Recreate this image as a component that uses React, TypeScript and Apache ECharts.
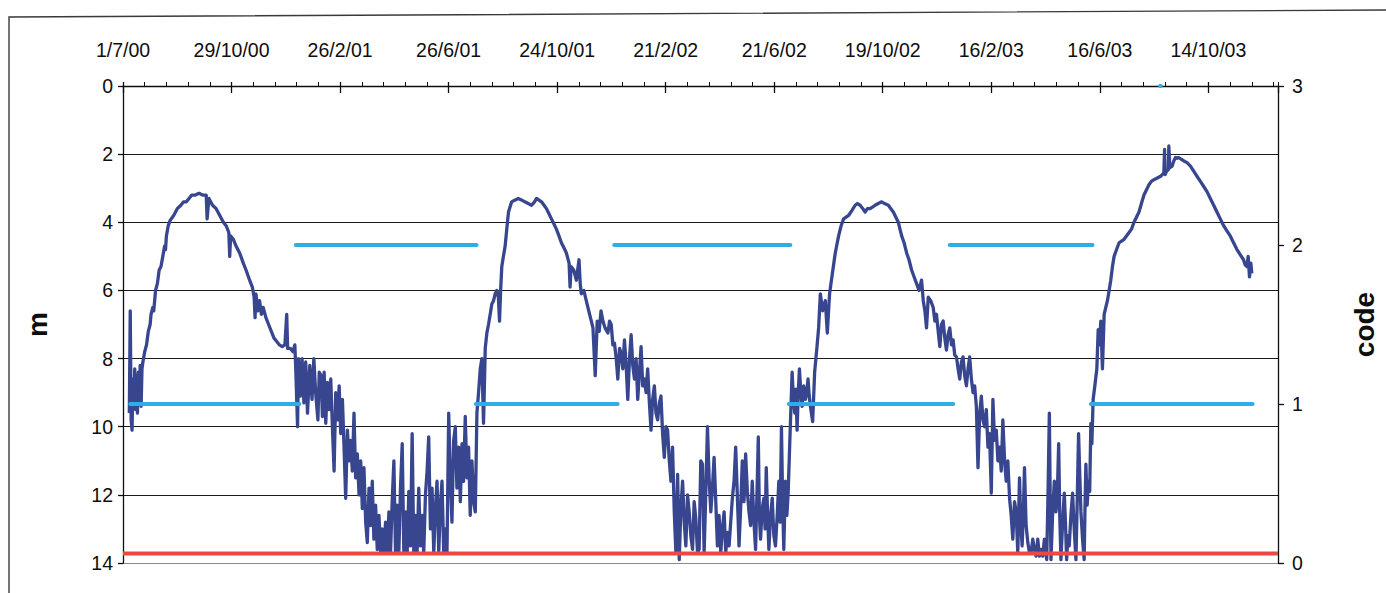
import { useEffect, useRef } from "react";
import * as echarts from "echarts";

// Day 0 of the horizontal axis is 1 July 2000; positions are days after it.
const ORIGIN_UTC = Date.UTC(2000, 6, 1);
const DAY_MS = 86400000;
const AXIS_MAX_DAY = 1277;
const MAJOR_TICK_DAYS = 120;
const MINOR_TICK_DAYS = 24;

// Depth to water (m), as [day, metres].
const waterDepth: [number, number][] = [
  [7, 9.6], [8, 6.6], [9, 9.8], [10, 10.1], [11, 8.6], [12, 9.4], [13, 8.3], [14, 9.5], [15, 8.5], [16, 9.6],
  [17, 8.4], [18, 9.2], [19, 8.2], [20, 9.4], [21, 8.3], [22, 8.1], [24, 7.8], [26, 7.6], [28, 7.2], [30, 7.0],
  [31, 6.7], [33, 6.5], [34, 6.6], [36, 6.0], [38, 5.8], [40, 5.4], [42, 5.3], [44, 5.0], [46, 4.7], [47, 4.8],
  [48, 4.4], [50, 4.1], [52, 3.95], [56, 3.8], [60, 3.6], [64, 3.5], [67, 3.4], [70, 3.4], [73, 3.3], [76, 3.2],
  [80, 3.2], [84, 3.15], [88, 3.2], [92, 3.2], [93, 3.9], [95, 3.3], [99, 3.5], [103, 3.6], [107, 3.8], [111, 4.0],
  [114, 4.1], [117, 4.3], [118, 5.0], [119, 4.4], [122, 4.5], [125, 4.7], [129, 4.9], [133, 5.2], [136, 5.4], [140, 5.7],
  [143, 5.9], [145, 6.2], [146, 6.8], [147, 6.1], [149, 6.6], [151, 6.3], [153, 6.7], [155, 6.5], [158, 6.8], [161, 7.0],
  [164, 7.2], [167, 7.4], [170, 7.5], [173, 7.6], [176, 7.65], [179, 7.6], [181, 6.7], [182, 7.7], [185, 7.7], [188, 7.8],
  [190, 7.6], [191, 8.3], [193, 10.0], [194, 8.0], [196, 9.1], [198, 8.0], [200, 9.3], [202, 8.1], [204, 9.6], [206.5, 8.2],
  [209, 9.2], [211, 8.0], [213, 9.0], [215.5, 9.8], [217, 8.4],
  [219, 8.5], [220.5, 9.7], [222.4, 8.4], [224.2, 9.9], [226, 8.7], [227.9, 9.5], [229.7, 8.6], [231.5, 10.0], [233.4, 11.3], [235.2, 9.0],
  [237.1, 9.8], [239, 8.8], [240.7, 10.2], [242.6, 9.2], [244.4, 10.6], [246.2, 12.1], [248.1, 10.1], [250, 11.0], [251.7, 10.4], [253.5, 11.3],
  [255.4, 9.6], [257.2, 11.5], [259.1, 10.8], [261, 12.0], [262.8, 11.0], [264.6, 12.4], [266.4, 11.2], [268.3, 12.8], [270.1, 13.4], [272, 11.8],
  [273.8, 12.9], [275.6, 11.6], [277.4, 13.3], [279.3, 12.3], [281.1, 13.6], [283, 12.6], [284.8, 13.7], [286.6, 13.0], [288.5, 13.7], [290.3, 12.8],
  [292.1, 13.7], [294, 12.5], [295.8, 13.7], [297.6, 12.2], [299.5, 11.0], [301.3, 13.7], [303.1, 12.3], [305, 13.7], [306.8, 11.8], [308.7, 10.5],
  [310.5, 13.7], [312.3, 12.5], [314.2, 13.7], [316, 11.9], [317.8, 13.5], [319.7, 10.2], [321.5, 13.7], [323.4, 12.6], [325.2, 13.7], [327, 11.8],
  [328.9, 13.5], [330.7, 12.6], [332.5, 13.7], [334.4, 12.0], [336.2, 11.3], [338, 10.3], [339.9, 13.0], [341.7, 11.8], [343.6, 13.7], [345.4, 12.4],
  [347.2, 11.6], [349.1, 13.7], [350.9, 12.3], [352.7, 11.6], [354.6, 13.7], [356.4, 13.0], [358.2, 13.7], [360.1, 9.6], [361.9, 11.5], [363.7, 12.8],
  [365.6, 10.4], [367.4, 10.0], [369.2, 11.8], [371.1, 10.6], [373, 12.2], [374.8, 10.5], [376.6, 11.6], [378.4, 9.7], [380.3, 11.5], [382.1, 10.6],
  [383.9, 12.6], [385.8, 11.0], [387.6, 12.2], [389.5, 12.5], [391.3, 9.6], [393.1, 9.0], [395, 8.3], [396.8, 8.0], [398.6, 9.9], [400.5, 7.7],
  [402.3, 7.25], [404.1, 7.0], [406, 6.7], [407.8, 6.4], [409.7, 6.3], [411.5, 6.1], [413.3, 6.0], [415, 6.2], [416.3, 6.9], [417.5, 6.0],
  [418.8, 5.3], [420.6, 5.0], [422.5, 4.7], [424.3, 4.2], [426.2, 3.7],
  [429.7, 3.4], [433, 3.35], [437, 3.3], [441, 3.35], [444.3, 3.4], [448, 3.45], [451.7, 3.5], [455, 3.4], [457.2, 3.3], [460, 3.35],
  [462.7, 3.4], [465.5, 3.5], [468.2, 3.6], [471, 3.75], [473.7, 3.9], [476.5, 4.05], [479.2, 4.2], [482, 4.4], [484.7, 4.6], [487.5, 4.75],
  [490.2, 4.9], [493.2, 5.2], [494.3, 5.9], [495.4, 5.3], [498.3, 5.4], [501.2, 5.7], [504.2, 5.1], [505.5, 5.8], [506.7, 6.1], [509.5, 6.0],
  [512.2, 6.3], [514, 6.5], [515.9, 6.7], [517.8, 6.9], [519.6, 7.1], [522.1, 8.5], [524.3, 6.9], [526.5, 7.2], [528.5, 6.6], [530.6, 6.9],
  [533, 7.1], [536.1, 7.25], [538, 6.9], [539.8, 7.0], [541.6, 7.6], [543.4, 7.55], [545.3, 8.0], [547.1, 8.6], [549, 7.7], [550.8, 7.85],
  [552.6, 8.3], [554.4, 7.45], [556.3, 8.2], [558.1, 9.2], [560, 8.0], [561.8, 7.3], [563.6, 8.2], [565.5, 8.6], [567.3, 8.0], [569.1, 9.2],
  [571, 8.4], [572.8, 7.65], [574.6, 8.8], [576.5, 8.6], [578.3, 9.0], [580.1, 8.3], [582, 9.3], [583.8, 10.1], [585.6, 9.2], [587.5, 8.8],
  [589.3, 9.6], [591.1, 9.8], [593, 9.3], [594.8, 9.1], [596.6, 10.2], [598.5, 10.9], [600.3, 10.0], [602.1, 10.1], [604, 11.0], [605.8, 11.6],
  [607.6, 10.6], [609.5, 12.5], [611.3, 13.7], [613.2, 11.4], [615, 13.9], [616.8, 12.4], [618.7, 11.6], [620.5, 12.8], [622.3, 13.5], [624.2, 12.0],
  [626, 12.5], [627.8, 13.2], [629.7, 13.6], [631.5, 12.2], [633.3, 12.7], [635.2, 13.7], [637, 13.6], [638.8, 11.0], [640.7, 11.1], [642.5, 13.7],
  [644.3, 12.0], [646.2, 10.0], [648, 11.5], [649.9, 12.5], [651.7, 11.8], [653.5, 10.9], [655.4, 12.2], [657.2, 13.5], [659, 12.6], [660.9, 13.7],
  [662.7, 13.0], [664.6, 12.5], [666.4, 13.7], [668.2, 13.1], [670.1, 13.5], [671.9, 12.8], [673.7, 12.1], [675.6, 11.6], [677.4, 10.6], [679.2, 12.0],
  [681.1, 13.5], [682.9, 12.4], [684.7, 11.0], [686.6, 12.2], [688.4, 10.8], [690.3, 11.9], [692.1, 12.5], [693.9, 12.9], [695.7, 11.6], [697.6, 12.8],
  [699.4, 13.6], [700.9, 12.0], [702.4, 10.3], [703.6, 12.6], [704.9, 13.3], [706.7, 12.4], [708.6, 12.1], [709.9, 13.0], [711.2, 11.2], [712.6, 12.5],
  [714.1, 13.6], [716, 12.6], [717.8, 12.1], [719.6, 13.2], [721.4, 13.5], [723.3, 12.6], [725.1, 11.6], [726.5, 12.8], [728, 10.0], [729.3, 12.2],
  [730.6, 13.6], [732.4, 11.6], [734, 12.6], [735.4, 11.95], [737.9, 9.9], [739.8, 8.4], [741.2, 9.2], [742.7, 9.6], [744, 8.9], [745.3, 10.1],
  [746.6, 9.0], [747.9, 8.3], [749.4, 9.0], [750.8, 9.4], [752.6, 8.8], [754.5, 9.2], [756, 9.0], [757.4, 8.6], [758.7, 9.1], [760, 9.4],
  [762.5, 9.85], [764.7, 8.4], [767.3, 7.65], [769.1, 7.1], [771, 6.1], [773.5, 6.6], [776.5, 6.3], [778.7, 7.25], [781.2, 6.1], [783.8, 5.6],
  [787.5, 4.9], [791.2, 4.4], [794, 4.1], [796.7, 3.9], [799.5, 3.85], [802.2, 3.8], [806, 3.65], [809.5, 3.5], [812, 3.45], [815, 3.5],
  [818, 3.6], [820.5, 3.7], [823, 3.6], [826, 3.6], [829, 3.55], [831.5, 3.5], [835, 3.45], [838.9, 3.4], [842, 3.45], [846.2, 3.5],
  [849, 3.6], [851.7, 3.7], [854.5, 3.85], [857.2, 4.0], [860.9, 4.4], [863.6, 4.6], [866.4, 4.9], [869, 5.1], [871.9, 5.4], [874.6, 5.6],
  [877.4, 5.8], [880.1, 6.0], [882.9, 5.7], [884.8, 6.3], [886.6, 6.6], [888.4, 7.1], [890.3, 6.2], [893, 6.3], [895.8, 6.5], [897.6, 6.9],
  [899.4, 6.7], [901.3, 7.2], [903.1, 7.65], [904.9, 7.0], [906.8, 6.9], [908.6, 7.4], [910.4, 7.75], [912.3, 7.3], [914.1, 7.1], [916, 7.6],
  [917.8, 7.45], [919.6, 7.9], [921.5, 7.95], [923.3, 8.3], [925.1, 8.6], [927, 8.1], [928.8, 7.95], [930.6, 8.5], [932.5, 8.8], [934.3, 8.3],
  [936.1, 7.95], [938, 8.6], [939.8, 9.0], [941.6, 8.8], [943.5, 9.4], [945.3, 11.2], [947.2, 9.6], [949, 9.1], [950.8, 9.8], [952.6, 10.0],
  [954.5, 9.5], [956.3, 10.6], [958.1, 10.2], [960, 11.95], [961.8, 9.2], [963.6, 10.4], [965.5, 10.1], [967.3, 11.0], [969.2, 10.6], [971, 11.3],
  [972.8, 9.8], [974.7, 11.0], [976.5, 11.6], [978.3, 11.0], [980.2, 12.1], [982, 12.6], [983.8, 13.3], [985.7, 12.2], [987.5, 12.5], [989.3, 13.7],
  [991.2, 11.5], [992.6, 12.8], [994.1, 13.5], [995.4, 12.6], [996.7, 11.2], [998.5, 12.9], [1000.4, 13.4], [1002.2, 13.7], [1004, 13.7], [1005.9, 13.3],
  [1007.7, 13.6], [1009.5, 13.8], [1011.4, 13.3], [1013.2, 13.8], [1015, 13.6], [1016.9, 13.8], [1018.7, 13.3], [1020, 13.6], [1021.3, 13.9], [1022.7, 12.0],
  [1024.2, 9.6], [1025.1, 12.0], [1026, 13.9], [1027.9, 12.5], [1029.7, 11.6], [1031.5, 12.5], [1033, 12.0], [1034.5, 10.5], [1035.7, 12.6], [1037, 13.9],
  [1038.9, 12.8], [1040.7, 11.95], [1042, 12.8], [1043.3, 13.9], [1044.8, 13.2], [1046.2, 13.5], [1048, 12.6], [1049.9, 11.95], [1051.7, 13.0], [1053.6, 13.9],
  [1055, 12.2], [1056.5, 10.2], [1057.8, 11.4], [1059.1, 12.5], [1060.9, 13.3], [1062.7, 13.9], [1063.6, 12.4], [1064.6, 11.1], [1066, 12.3], [1067.5, 11.6],
  [1068.8, 11.9], [1070.1, 9.9], [1071.2, 10.5], [1072.6, 9.2], [1074.5, 8.8], [1076.7, 8.3], [1078.2, 7.15], [1079.5, 7.6], [1081.1, 6.9], [1082.9, 8.3],
  [1084.8, 6.7], [1086.6, 6.5], [1088.4, 6.3], [1090.3, 6.0], [1092.1, 5.7], [1094, 5.3], [1095.8, 5.0], [1098.5, 4.8], [1101.3, 4.6], [1104, 4.55],
  [1106.8, 4.5], [1109.5, 4.4], [1112.3, 4.3], [1115, 4.2], [1117.8, 4.0], [1120.5, 3.85], [1123.3, 3.7], [1126, 3.45], [1128.8, 3.2], [1131.5, 3.05],
  [1134.3, 2.9], [1137, 2.8], [1139.8, 2.75], [1143.5, 2.7], [1147.2, 2.65], [1149, 2.6], [1150.8, 2.55], [1151.6, 1.86], [1152.2, 2.6], [1153.8, 2.5],
  [1155.8, 2.45], [1156.3, 1.76], [1157.4, 2.4], [1160, 2.35], [1161.8, 2.2], [1163.7, 2.1], [1165.5, 2.12], [1167.3, 2.1], [1170, 2.15], [1172.9, 2.2],
  [1176.5, 2.25], [1180.2, 2.35], [1183.8, 2.5], [1187.5, 2.65], [1191.2, 2.8], [1194.9, 2.95], [1198.5, 3.1], [1202.2, 3.3], [1205.9, 3.5], [1209.5, 3.7],
  [1213.2, 3.9], [1216.9, 4.1], [1220.5, 4.25], [1224.2, 4.4], [1227.9, 4.6], [1231.6, 4.8], [1235.2, 4.95], [1238.9, 5.1], [1240.7, 5.25], [1242.6, 5.3],
  [1244, 5.0], [1245.5, 5.6], [1247, 5.2], [1248, 5.5],
];

// Status code periods (right axis): start day, end day, code.
const codeStart = [8, 191, 390, 543, 736, 914, 1070, 1146.5];
const codeEnd = [195, 391, 547, 738, 918, 1072, 1249, 1147.5];
const codeValue = [1, 2, 1, 2, 1, 2, 1, 3];

// Reference level (m), drawn across the whole period.
const referenceLevel = 13.72;

const depthTicks = { min: 0, max: 14, step: 2 };
const codeTicks = { min: 0, max: 3, step: 1 };

const FONT = "'Liberation Sans', Arial, Helvetica, sans-serif";
const INK = "#0e0e0e";

// Plot rectangle inside the 1386 x 593 canvas.
const PLOT = { left: 123, right: 103, top: 86, bottom: 30 };
const PLOT_HEIGHT = 593 - PLOT.top - PLOT.bottom;

function dayLabel(day: number): string {
  const d = new Date(ORIGIN_UTC + Math.round(day) * DAY_MS);
  const yy = String(d.getUTCFullYear() % 100).padStart(2, "0");
  return `${d.getUTCDate()}/${d.getUTCMonth() + 1}/${yy}`;
}

function buildOption(): echarts.EChartsCoreOption {
  const hiddenAxisParts = {
    axisLabel: { show: false },
    splitLine: { show: false },
  };

  const codeSeries = codeStart.map((s, i) => ({
    type: "line",
    xAxisIndex: 0,
    yAxisIndex: 1,
    data: [
      [s, codeValue[i]],
      [codeEnd[i], codeValue[i]],
    ],
    showSymbol: false,
    silent: true,
    z: 4,
    lineStyle: { color: "#2eaee6", width: 3.8, cap: "round" },
  }));

  const gridLineColours = [INK, "#1a1a1a", "#1a1a1a", "#1a1a1a", "#1a1a1a", "#1a1a1a", "#1a1a1a", "#8a8a8a"];

  return {
    animation: false,
    backgroundColor: "#ffffff",
    textStyle: { fontFamily: FONT },
    grid: { left: PLOT.left, right: PLOT.right, top: PLOT.top, bottom: PLOT.bottom },
    graphic: [
      {
        type: "polyline",
        silent: true,
        shape: { points: [[9, 600], [9, 17], [1390, 10]] },
        style: { stroke: "#3a3a3a", lineWidth: 1.4, fill: "none" },
      },
    ],
    xAxis: [
      {
        // date labels, axis line and outward major ticks
        type: "value",
        position: "top",
        min: 0,
        max: AXIS_MAX_DAY,
        interval: MAJOR_TICK_DAYS,
        axisLine: { show: true, onZero: false, lineStyle: { color: INK, width: 1.3 } },
        axisTick: { show: true, inside: false, length: 4, lineStyle: { color: INK, width: 1.3 } },
        axisLabel: {
          show: true,
          formatter: (v: number) => dayLabel(v),
          showMaxLabel: false,
          fontSize: 19.5,
          color: INK,
          fontFamily: FONT,
          margin: 26,
        },
        splitLine: { show: false },
      },
      {
        // inward part of the major ticks: a bottom axis shifted up onto the top edge
        type: "value",
        position: "bottom",
        offset: -PLOT_HEIGHT,
        min: 0,
        max: AXIS_MAX_DAY,
        interval: MAJOR_TICK_DAYS,
        axisLine: { show: false, onZero: false },
        axisTick: { show: true, inside: false, length: 7, lineStyle: { color: INK, width: 1.3 } },
        ...hiddenAxisParts,
      },
      {
        // minor ticks
        type: "value",
        position: "top",
        min: 0,
        max: AXIS_MAX_DAY,
        interval: MINOR_TICK_DAYS,
        axisLine: { show: false, onZero: false },
        axisTick: { show: true, inside: false, length: 4, lineStyle: { color: INK, width: 1 } },
        ...hiddenAxisParts,
      },
    ],
    yAxis: [
      {
        type: "value",
        position: "left",
        inverse: true,
        min: depthTicks.min,
        max: depthTicks.max,
        interval: depthTicks.step,
        name: "m",
        nameLocation: "middle",
        nameRotate: 90,
        nameGap: 72,
        nameTextStyle: { fontSize: 28, fontWeight: "bold", color: INK, fontFamily: FONT },
        axisLine: { show: true, onZero: false, lineStyle: { color: INK, width: 1.3 } },
        axisTick: { show: true, inside: false, length: 5, lineStyle: { color: INK, width: 1.3 } },
        axisLabel: { fontSize: 19.5, color: INK, margin: 10, fontFamily: FONT },
        splitLine: { show: true, lineStyle: { color: gridLineColours, width: 1.1 } },
      },
      {
        type: "value",
        position: "right",
        min: codeTicks.min,
        max: codeTicks.max,
        interval: codeTicks.step,
        name: "code",
        nameLocation: "middle",
        nameRotate: 90,
        nameGap: 72,
        nameTextStyle: { fontSize: 28, fontWeight: "bold", color: INK, fontFamily: FONT },
        axisLine: { show: true, onZero: false, lineStyle: { color: INK, width: 1.3 } },
        axisTick: { show: true, inside: false, length: 6, lineStyle: { color: INK, width: 1.3 } },
        axisLabel: { fontSize: 19.5, color: INK, margin: 14, fontFamily: FONT },
        splitLine: { show: false },
      },
    ],
    series: [
      {
        type: "line",
        name: "depth",
        xAxisIndex: 0,
        yAxisIndex: 0,
        data: waterDepth,
        showSymbol: false,
        silent: true,
        z: 2,
        lineStyle: { color: "#37468f", width: 3.3, join: "round" },
      },
      {
        type: "line",
        name: "reference",
        xAxisIndex: 0,
        yAxisIndex: 0,
        data: [
          [0, referenceLevel],
          [AXIS_MAX_DAY, referenceLevel],
        ],
        showSymbol: false,
        silent: true,
        z: 3,
        lineStyle: { color: "#ec4a40", width: 4 },
      },
      ...codeSeries,
    ],
  };
}

export default function App() {
  const ref = useRef<HTMLDivElement>(null);

  useEffect(() => {
    if (!ref.current) return;
    const chart = echarts.init(ref.current, null, { renderer: "svg" });
    chart.setOption(buildOption());
    return () => chart.dispose();
  }, []);

  return (
    <div
      ref={ref}
      style={{ position: "absolute", left: 0, top: 0, width: 1386, height: 593, background: "#ffffff" }}
    />
  );
}
